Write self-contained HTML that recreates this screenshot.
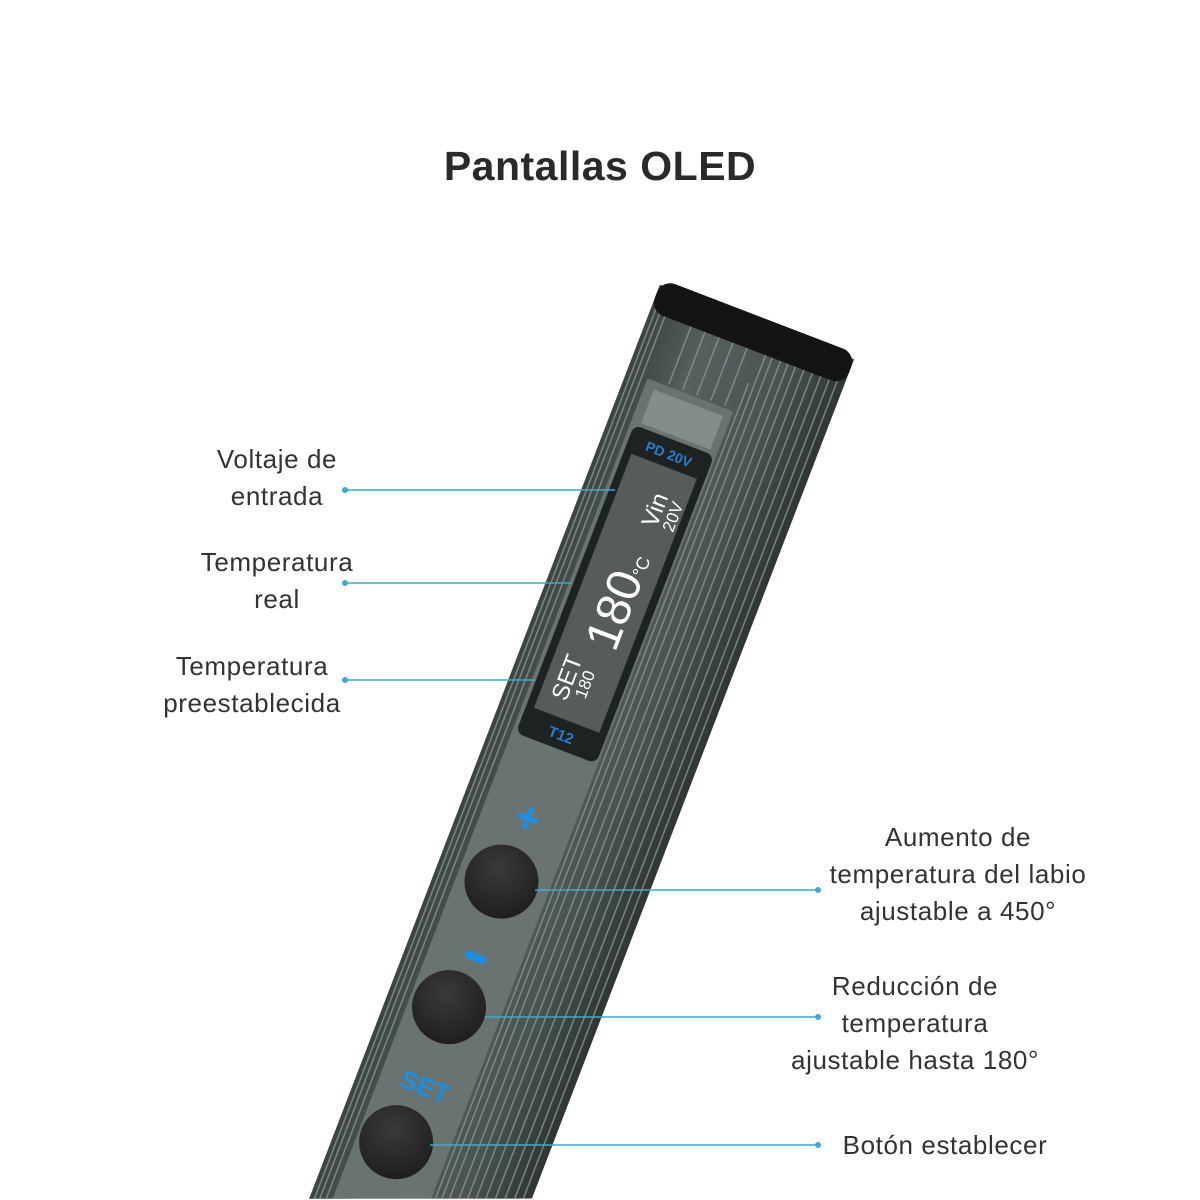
<!DOCTYPE html>
<html><head><meta charset="utf-8"><style>
html,body{margin:0;padding:0;background:#fff;}
body{width:1200px;height:1200px;overflow:hidden;position:relative;font-family:"Liberation Sans",sans-serif;}
svg{display:block;overflow:hidden;}
</style></head><body>
<svg width="1200" height="1200" viewBox="0 0 1200 1200" xmlns="http://www.w3.org/2000/svg">
<defs>
<linearGradient id="bd" x1="0" x2="1" y1="0" y2="0">
<stop offset="0" stop-color="#3c4443"/><stop offset="0.3" stop-color="#56605f"/><stop offset="0.7" stop-color="#4a5352"/><stop offset="1" stop-color="#2f3635"/>
</linearGradient>
<radialGradient id="btn" cx="0.4" cy="0.35" r="0.7"><stop offset="0" stop-color="#3a3a3a"/><stop offset="1" stop-color="#1e1e1e"/></radialGradient>
</defs>
<text x="600" y="180" text-anchor="middle" font-family="Liberation Sans,sans-serif" font-weight="bold" font-size="41" fill="#2a2a2a" letter-spacing="0.5">Pantallas OLED</text>

<g transform="translate(757,322) rotate(21)">
  <polygon points="-104,0 104,0 104,899 -104,979" fill="url(#bd)"/>
  <g stroke="#8a9795" stroke-width="1.5" opacity="0.8">
    <line x1="-99" y1="20" x2="-99" y2="977"/><line x1="-94" y1="20" x2="-94" y2="975"/><line x1="-88" y1="20" x2="-88" y2="973"/>
    <line x1="14" y1="60" x2="14" y2="934"/><line x1="20" y1="20" x2="20" y2="931"/><line x1="27" y1="20" x2="27" y2="929"/>
    <line x1="36" y1="20" x2="36" y2="925"/><line x1="44" y1="20" x2="44" y2="922"/><line x1="52" y1="20" x2="52" y2="919"/>
    <line x1="61" y1="20" x2="61" y2="916"/><line x1="70" y1="20" x2="70" y2="912"/><line x1="79" y1="20" x2="79" y2="909"/>
    <line x1="88" y1="20" x2="88" y2="905"/><line x1="96" y1="20" x2="96" y2="902"/>
    <line x1="-60" y1="20" x2="-60" y2="90"/><line x1="-45" y1="20" x2="-45" y2="90"/><line x1="-30" y1="20" x2="-30" y2="90"/><line x1="-15" y1="20" x2="-15" y2="90"/><line x1="0" y1="20" x2="0" y2="90"/>
  </g>
  <polygon points="-82,92 10,92 10,935 -82,970" fill="#697371"/>
  <rect x="-72" y="100" width="74" height="36" fill="#838d8b"/>
  <rect x="-104" y="-6" width="208" height="34" rx="14" fill="#141414"/>
  <rect x="-78" y="140" width="86" height="330" rx="8" fill="#1f2222"/>
  <rect x="-70" y="168" width="70" height="272" fill="#575b5b"/>
  <g font-family="Liberation Sans,sans-serif">
    <text x="-35" y="160" text-anchor="middle" fill="#2a7fd0" font-weight="bold" font-size="14">PD 20V</text>
    <text x="-35" y="461" text-anchor="middle" fill="#2a7fd0" font-weight="bold" font-size="15">T12</text>
    <text transform="translate(-20,212) rotate(-90)" text-anchor="middle" fill="#fff" font-size="24">Vin</text>
    <text transform="translate(-3,212) rotate(-90)" text-anchor="middle" fill="#fff" font-size="17">20V</text>
    <text transform="translate(-14,310) rotate(-90)" text-anchor="middle" fill="#fff" font-size="48">180<tspan font-size="18">°C</tspan></text>
    <text transform="translate(-42,400) rotate(-90)" text-anchor="middle" fill="#fff" font-size="24">SET</text>
    <text transform="translate(-25,400) rotate(-90)" text-anchor="middle" fill="#fff" font-size="17">180</text>
    <text x="-36" y="560" text-anchor="middle" fill="#1e8fe0" font-weight="bold" font-size="44">+</text>
    <rect x="-46" y="690" width="22" height="8" rx="3" fill="#1e8fe0"/>
    <text x="-36" y="842" text-anchor="middle" fill="#1e8fe0" font-weight="bold" font-size="26">SET</text>
  </g>
  <circle cx="-38" cy="614" r="37" fill="url(#btn)"/>
  <circle cx="-42" cy="750" r="37" fill="url(#btn)"/>
  <circle cx="-43" cy="895" r="37" fill="url(#btn)"/>
</g>

<g stroke="#3fa9c8" stroke-width="1.6">
<line x1="345" y1="490" x2="615" y2="490"/><line x1="345" y1="583" x2="572" y2="583"/><line x1="345" y1="680" x2="535" y2="680"/>
<line x1="535" y1="890" x2="818" y2="890"/><line x1="485" y1="1017" x2="818" y2="1017"/><line x1="430" y1="1145" x2="818" y2="1145"/>
</g>
<g fill="#3fa9c8">
<circle cx="345" cy="490" r="3"/><circle cx="345" cy="583" r="3"/><circle cx="345" cy="680" r="3"/>
<circle cx="818" cy="890" r="3"/><circle cx="818" cy="1017" r="3"/><circle cx="818" cy="1145" r="3"/>
</g>
<g font-family="Liberation Sans,sans-serif" font-size="26" fill="#333" text-anchor="middle" letter-spacing="0.6">
<text x="277" y="468">Voltaje de</text><text x="277" y="505">entrada</text>
<text x="277" y="571">Temperatura</text><text x="277" y="608">real</text>
<text x="252" y="675">Temperatura</text><text x="252" y="712">preestablecida</text>
<text x="958" y="846">Aumento de</text><text x="958" y="883">temperatura del labio</text><text x="958" y="920">ajustable a 450°</text>
<text x="915" y="995">Reducción de</text><text x="915" y="1032">temperatura</text><text x="915" y="1069">ajustable hasta 180°</text>
<text x="945" y="1154">Botón establecer</text>
</g>
</svg>
</body></html>
